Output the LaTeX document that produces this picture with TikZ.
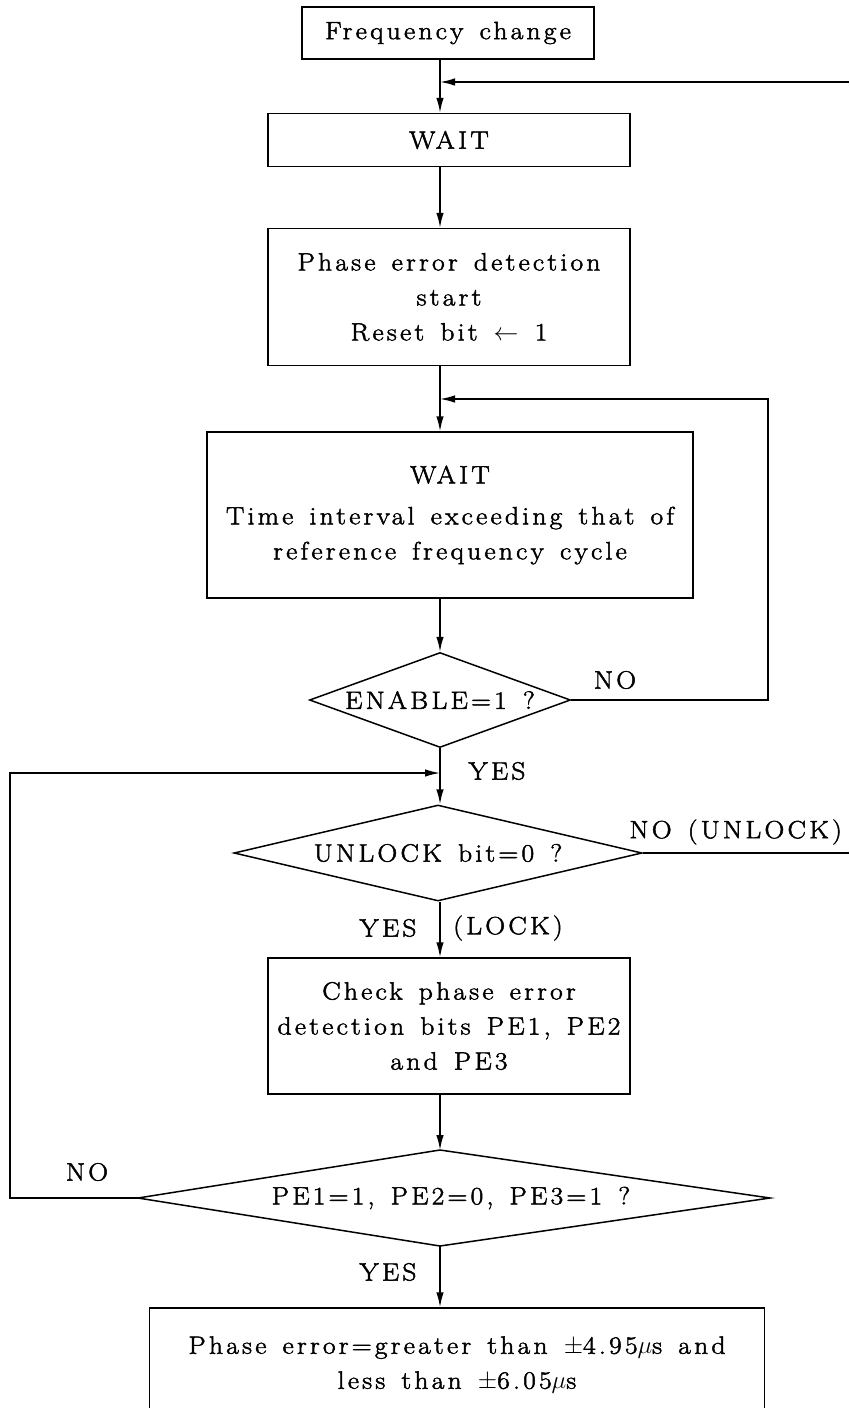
\documentclass[tikz,border=0pt]{standalone}
\usepackage{amsmath, amssymb}
\usepackage{fontspec}
\newfontfamily\chartfont{Latin Modern Roman}[LetterSpace=13, WordSpace=1.4, FakeStretch=1.1, FakeBold=2]
\usetikzlibrary{arrows.meta, shapes.geometric}

\begin{document}
\begin{tikzpicture}[x=1pt, y=-1pt, >={Latex[length=15pt, width=7.5pt]}, line width=1.5pt,
    every node/.style={font=\chartfont\fontsize{25}{35}\selectfont},
    box/.style={draw, rectangle, inner sep=0pt, align=center},
    decision/.style={draw, diamond, inner sep=0pt}]

        \useasboundingbox (0,0) rectangle (849,1408);
        \clip (0,0) rectangle (849,1408);

        % ====================
        % 1. Start and first wait
        % ====================
        \node[box, minimum width=292pt, minimum height=52pt] (freq) at (448,33) {Frequency change};
        \node[box, minimum width=362pt, minimum height=53pt] (wait1) at (449,140) {WAIT};
        \node[box, minimum width=362pt, minimum height=137pt] (start) at (449,297)
            {Phase error detection\\ start\\ Reset bit $\leftarrow$ 1};

        \coordinate (j1) at (440,82);
        \coordinate (topret) at (849,82);

        \draw[->] (freq.south -| j1) -- (wait1.north -| j1);
        \draw[->] (topret) -- (j1);
        \draw[->] (wait1.south -| j1) -- (start.north -| j1);

        % ====================
        % 2. Wait for reference cycle, ENABLE check
        % ====================
        \node[box, minimum width=486pt, minimum height=166pt] (wait2) at (450,515)
            {WAIT\\[6pt] Time interval exceeding that of\\ reference frequency cycle};
        \node[decision, aspect=2.75, minimum width=261pt, minimum height=95pt] (enable) at (440,700) {ENABLE=1 ?};

        \coordinate (j2) at (440,399);
        \coordinate (loopr) at (768,700);

        \draw[->] (start.south -| j2) -- (wait2.north -| j2);
        \draw[->] (enable.east) -- (loopr) |- (j2);
        \draw[->] (wait2.south -| enable.north) -- (enable.north);
        \node at (615,680) {NO};

        % ====================
        % 3. UNLOCK bit check
        % ====================
        \node[decision, aspect=4.25, minimum width=408pt, minimum height=96pt] (unlock) at (438,853) {UNLOCK bit=0 ?};
        \coordinate (j3) at (440,773);
        \coordinate (unlockout) at (849,853);

        \draw[->] (enable.south) -- (enable.south |- unlock.north);
        \draw (unlock.east) -- (unlockout);
        \node at (497,771) {YES};
        \node[anchor=east] at (846,832) {NO (UNLOCK)};

        % ====================
        % 4. Phase error bits (uneven diamond)
        % ====================
        \node[box, minimum width=362pt, minimum height=136pt] (check) at (449,1026)
            {Check phase error\\ detection bits PE1, PE2\\ and PE3};

        \coordinate (pewest) at (138,1198);
        \coordinate (penorth) at (440,1150);
        \coordinate (peeast) at (770,1198);
        \coordinate (pesouth) at (440,1246);
        \draw (pewest) -- (penorth) -- (peeast) -- (pesouth) -- cycle;
        \node (pebits) at (451,1198) {PE1=1, PE2=0, PE3=1 ?};

        \coordinate (loopl) at (10,1198);

        \draw[->] (enable.south |- unlock.south) -- (enable.south |- check.north);
        \draw[->] (check.south -| penorth) -- (penorth);
        \draw[->] (pewest) -- (loopl) |- (j3);
        \node at (388,928) {YES};
        \node at (508,928) {(LOCK)};
        \node at (87,1172) {NO};

        % ====================
        % 5. Result
        % ====================
        \node[box, minimum width=615pt, minimum height=114pt] (result) at (457,1365)
            {Phase error=greater than $\pm$4.95$\mu$s and\\ less than $\pm$6.05$\mu$s};

        \draw[->] (pesouth) -- (result.north -| pesouth);
        \node at (388,1272) {YES};

\end{tikzpicture}
\end{document}
